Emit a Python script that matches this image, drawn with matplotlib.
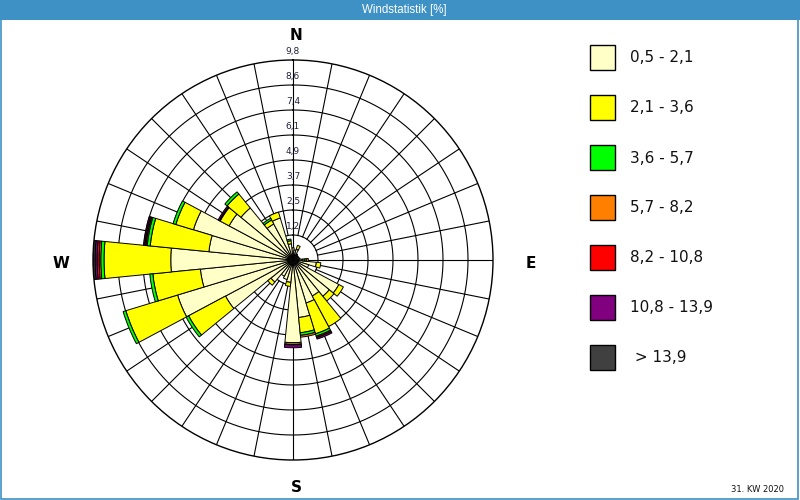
import numpy as np
import matplotlib
matplotlib.use("Agg")
import matplotlib.pyplot as plt
from matplotlib.patches import Rectangle
from matplotlib import font_manager

# ---------------- data ----------------
directions_deg = [0, 11.25, 22.5, 33.75, 45, 56.25, 67.5, 78.75,
                  90, 101.25, 112.5, 123.75, 135, 146.25, 157.5, 168.75,
                  180, 191.25, 202.5, 213.75, 225, 236.25, 247.5, 258.75,
                  270, 281.25, 292.5, 303.75, 315, 326.25, 337.5, 348.75]

class_labels = ["0,5 - 2,1", "2,1 - 3,6", "3,6 - 5,7", "5,7 - 8,2",
                "8,2 - 10,8", "10,8 - 13,9", " > 13,9"]
class_colors = ["#ffffc8", "#ffff00", "#00ff00", "#ff8000",
                "#ff0000", "#800080", "#404040"]

# percent per direction for each speed class
v_05_21 = [0.60, 0.50, 0.55, 0.35, 0.30, 0.30, 0.30, 0.35,
           0.45, 1.15, 0.80, 2.55, 2.30, 2.00, 2.20, 2.83,
           4.05, 1.10, 1.00, 0.90, 1.40, 3.75, 5.91, 4.56,
           5.99, 4.14, 5.10, 3.55, 3.30, 2.00, 2.15, 0.80]
v_21_36 = [0.00, 0.00, 0.20, 0.00, 0.00, 0.00, 0.00, 0.00,
           0.10, 0.22, 0.00, 0.25, 0.30, 1.70, 1.58, 0.75,
           0.08, 0.20, 0.00, 0.00, 0.20, 2.05, 2.65, 2.34,
           3.27, 2.89, 0.90, 0.50, 0.88, 0.22, 0.30, 0.15]
v_36_57 = [0.00, 0.00, 0.00, 0.00, 0.00, 0.00, 0.00, 0.00,
           0.10, 0.00, 0.00, 0.00, 0.00, 0.00, 0.12, 0.13,
           0.00, 0.00, 0.00, 0.00, 0.00, 0.14, 0.14, 0.15,
           0.16, 0.15, 0.14, 0.00, 0.14, 0.10, 0.00, 0.08]
v_57_82 = [0.00, 0.00, 0.00, 0.00, 0.00, 0.00, 0.00, 0.00,
           0.10, 0.00, 0.00, 0.00, 0.00, 0.00, 0.00, 0.09,
           0.03, 0.00, 0.00, 0.00, 0.00, 0.00, 0.00, 0.00,
           0.08, 0.06, 0.00, 0.00, 0.00, 0.00, 0.00, 0.00]
v_82_108 = [0.00, 0.00, 0.00, 0.00, 0.00, 0.00, 0.00, 0.00,
            0.00, 0.00, 0.00, 0.00, 0.00, 0.00, 0.07, 0.00,
            0.00, 0.00, 0.00, 0.00, 0.00, 0.00, 0.00, 0.00,
            0.10, 0.06, 0.00, 0.04, 0.00, 0.00, 0.00, 0.00]
v_108_139 = [0.00, 0.00, 0.00, 0.00, 0.00, 0.00, 0.00, 0.00,
             0.00, 0.00, 0.00, 0.00, 0.00, 0.00, 0.08, 0.00,
             0.14, 0.00, 0.00, 0.00, 0.00, 0.00, 0.00, 0.00,
             0.10, 0.06, 0.00, 0.07, 0.00, 0.00, 0.00, 0.00]
v_gt_139 = [0.00, 0.00, 0.00, 0.00, 0.00, 0.00, 0.00, 0.00,
            0.00, 0.00, 0.00, 0.00, 0.00, 0.00, 0.00, 0.00,
            0.00, 0.00, 0.00, 0.00, 0.00, 0.00, 0.00, 0.00,
            0.08, 0.00, 0.00, 0.00, 0.00, 0.00, 0.00, 0.00]

ring_values = [1.225, 2.45, 3.675, 4.9, 6.125, 7.35, 8.575, 9.8]
ring_labels = ["1,2", "2,5", "3,7", "4,9", "6,1", "7,4", "8,6", "9,8"]

title_text = "Windstatistik [%]"
footer_text = "31. KW 2020"

# ---------------- figure ----------------
W, H = 800, 500
fig = plt.figure(figsize=(8, 5), dpi=100, facecolor="white")

def fx(px):
    return px / W

def fy(py):
    return 1 - py / H

blue = "#3d91c5"
# title band and frame
fig.add_artist(Rectangle((0, fy(20)), 1, 20 / H, transform=fig.transFigure,
                         facecolor=blue, edgecolor="none", zorder=0))
fig.add_artist(Rectangle((0.001, 0.002), 0.997, 0.996, transform=fig.transFigure,
                         facecolor="none", edgecolor=blue, lw=1.2, zorder=10))

names = {f.name for f in font_manager.fontManager.ttflist}
title_font = "Liberation Sans Narrow" if "Liberation Sans Narrow" in names else "Liberation Sans"
fig.text(0.505, fy(10.5), title_text, color="white", ha="center", va="center",
         fontsize=8.3, family=title_font)

cx, cy, R = 293, 260, 200
ax = fig.add_axes([fx(cx - R), fy(cy + R), 2 * R / W, 2 * R / H], projection="polar")
ax.set_theta_zero_location("N")
ax.set_theta_direction(-1)
ax.set_ylim(0, ring_values[-1])
ax.grid(False)
ax.set_xticks([])
ax.set_yticks([])
ax.set_facecolor("white")
ax.spines["polar"].set_linewidth(1.0)
ax.spines["polar"].set_color("black")

theta_full = np.linspace(0, 2 * np.pi, 721)
for r in ring_values[:-1]:
    ax.plot(theta_full, np.full_like(theta_full, r), color="black", lw=0.8, zorder=1)
for d in directions_deg:
    t = np.deg2rad(d)
    r0 = 0 if d % 90 == 0 else ring_values[0]
    ax.plot([t, t], [r0, ring_values[-1]], color="black", lw=0.8, zorder=1)

theta = np.deg2rad(directions_deg)
width = 2 * np.pi / len(directions_deg)
series = [v_05_21, v_21_36, v_36_57, v_57_82, v_82_108, v_108_139, v_gt_139]
bottom = np.zeros(len(directions_deg))
for vals, col in zip(series, class_colors):
    vals = np.array(vals)
    m = vals > 0
    ax.bar(theta[m], vals[m], width=width, bottom=bottom[m], color=col,
           edgecolor="black", linewidth=0.7, zorder=3, align="center")
    bottom = bottom + vals

for r, lab in zip(ring_values, ring_labels):
    ax.annotate(lab, xy=(0, r), xytext=(0, 9), textcoords="offset pixels",
                ha="center", va="center", fontsize=6.5, color="#202040", zorder=5,
                annotation_clip=False)

# compass letters
fig.text(fx(296), fy(35), "N", ha="center", va="center", fontsize=11, fontweight="bold")
fig.text(fx(531), fy(264), "E", ha="center", va="center", fontsize=11, fontweight="bold")
fig.text(fx(296), fy(488), "S", ha="center", va="center", fontsize=11, fontweight="bold")
fig.text(fx(61), fy(264), "W", ha="center", va="center", fontsize=11, fontweight="bold")

# legend
for i, (lab, col) in enumerate(zip(class_labels, class_colors)):
    top = 45 + 50 * i
    fig.add_artist(Rectangle((fx(590), fy(top + 25)), 25 / W, 25 / H,
                             transform=fig.transFigure, facecolor=col,
                             edgecolor="black", lw=1.0))
    fig.text(fx(630), fy(top + 13), lab, ha="left", va="center", fontsize=11,
             color="#111111")

fig.text(fx(784), fy(489), footer_text, ha="right", va="center", fontsize=6,
         color="#111111")

fig.savefig("out.png", dpi=100, facecolor="white")
